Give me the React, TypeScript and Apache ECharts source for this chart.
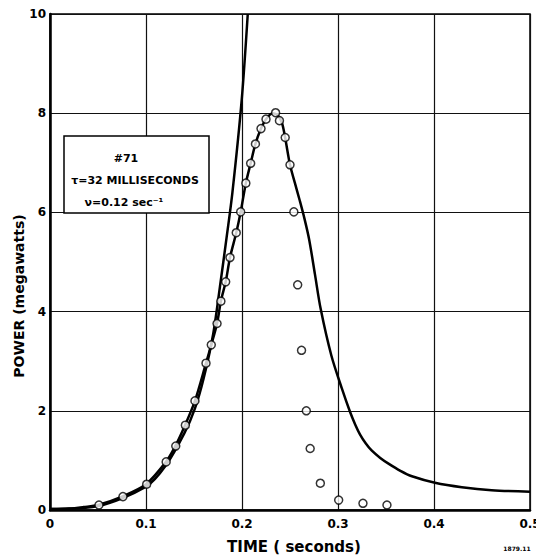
import React, { useEffect, useRef } from "react";
import * as echarts from "echarts";

// Measured points (open circles): time (s), power (MW)
const measuredT = [0.051, 0.076, 0.1007, 0.121, 0.131, 0.141, 0.151, 0.1625, 0.168, 0.174, 0.178, 0.183, 0.1875, 0.194, 0.1986, 0.204, 0.209, 0.214, 0.2198, 0.225, 0.235, 0.239, 0.245, 0.25, 0.254, 0.258, 0.262, 0.267, 0.271, 0.2816, 0.3007, 0.326, 0.351];
const measuredP = [0.1, 0.27, 0.52, 0.97, 1.29, 1.71, 2.2, 2.96, 3.33, 3.76, 4.21, 4.6, 5.09, 5.59, 6.01, 6.59, 6.99, 7.38, 7.69, 7.88, 8.01, 7.85, 7.51, 6.96, 6.01, 4.54, 3.22, 2.0, 1.24, 0.54, 0.2, 0.135, 0.1];

// Computed power curve (heavy line)
const curveT = [0, 0.02, 0.035, 0.05, 0.075, 0.1, 0.12, 0.13, 0.14, 0.151, 0.1625, 0.168, 0.174, 0.178, 0.183, 0.1875, 0.194, 0.1986, 0.204, 0.209, 0.214, 0.2198, 0.225, 0.232, 0.2375, 0.2417, 0.245, 0.25, 0.255, 0.26, 0.265, 0.27, 0.276, 0.282, 0.293, 0.304, 0.3125, 0.318, 0.323, 0.329, 0.335, 0.344, 0.353, 0.365, 0.377, 0.401, 0.429, 0.46, 0.5];
const curveP = [0.02, 0.03, 0.06, 0.1, 0.27, 0.52, 0.95, 1.27, 1.68, 2.2, 2.96, 3.33, 3.76, 4.21, 4.6, 5.09, 5.59, 6.01, 6.59, 6.99, 7.38, 7.69, 7.88, 8.0, 7.95, 7.8, 7.5, 6.96, 6.6, 6.25, 5.88, 5.45, 4.75, 4.05, 3.12, 2.45, 1.98, 1.72, 1.52, 1.34, 1.2, 1.05, 0.93, 0.79, 0.68, 0.55, 0.46, 0.4, 0.37];

// Pure exponential (τ period) curve
const expT = [0, 0.05, 0.1, 0.12, 0.14, 0.151, 0.16, 0.17, 0.177, 0.184, 0.19, 0.1997, 0.206];
const expP = [0.02, 0.08, 0.47, 0.88, 1.55, 2.05, 2.65, 3.55, 4.5, 5.5, 6.4, 8.27, 10];

const xTicks = [0, 0.1, 0.2, 0.3, 0.4, 0.5];
const yTicks = [0, 2, 4, 6, 8, 10];

const boxLines = ["#71", "τ=32 MILLISECONDS", "ν=0.12 sec⁻¹"];

const FONT = "DejaVu Sans";

export default function App() {
  const ref = useRef<HTMLDivElement>(null);
  useEffect(() => {
    if (!ref.current) return;
    const chart = echarts.init(ref.current, undefined, { renderer: "svg" });
    const pair = (a: number[], b: number[]) => a.map((v, i) => [v, b[i]]);
    chart.setOption({
      animation: false,
      backgroundColor: "#fff",
      grid: { left: 50, right: 14, top: 14, bottom: 47, show: true, borderColor: "#000", borderWidth: 1.5 },
      xAxis: {
        type: "value",
        min: xTicks[0],
        max: xTicks[xTicks.length - 1],
        interval: 0.1,
        axisLine: { show: true, onZero: false, lineStyle: { color: "#000", width: 2.5 } },
        axisTick: { show: false },
        splitLine: { show: true, lineStyle: { color: "#111", width: 1.2 } },
        axisLabel: {
          color: "#000", fontFamily: FONT, fontSize: 12, fontWeight: "bold", margin: 8,
          formatter: (v: number) => (v === 0 ? "0" : v.toFixed(1)),
        },
      },
      yAxis: {
        type: "value",
        min: yTicks[0],
        max: yTicks[yTicks.length - 1],
        interval: 2,
        axisLine: { show: true, onZero: false, lineStyle: { color: "#000", width: 2.5 } },
        axisTick: { show: false },
        splitLine: { show: true, lineStyle: { color: "#111", width: 1.2 } },
        axisLabel: { color: "#000", fontFamily: FONT, fontSize: 12, fontWeight: "bold", margin: 4 },
      },
      series: [
        {
          type: "line",
          data: pair(expT, expP),
          showSymbol: false,
          smooth: 0.3,
          lineStyle: { color: "#000", width: 2.5 },
          z: 2,
        },
        {
          type: "line",
          data: pair(curveT, curveP),
          showSymbol: false,
          smooth: 0.3,
          lineStyle: { color: "#000", width: 2.5 },
          z: 3,
        },
        {
          type: "scatter",
          data: pair(measuredT, measuredP),
          symbol: "circle",
          symbolSize: 8,
          itemStyle: { color: "#fff", borderColor: "#000", borderWidth: 1.5 },
          z: 4,
        },
      ],
      graphic: [
        {
          type: "rect",
          shape: { x: 64, y: 136, width: 145, height: 77 },
          style: { fill: "#fff", stroke: "#000", lineWidth: 1.5 },
          z: 100,
        },
        {
          type: "text", x: 126, y: 158, z: 101,
          style: { text: boxLines[0], fill: "#000", font: `bold 11px "${FONT}"`, align: "center", verticalAlign: "middle" },
        },
        {
          type: "text", x: 135, y: 180, z: 101,
          style: { text: boxLines[1], fill: "#000", font: `bold 11px "${FONT}"`, align: "center", verticalAlign: "middle" },
        },
        {
          type: "text", x: 124, y: 202, z: 101,
          style: { text: boxLines[2], fill: "#000", font: `bold 11px "${FONT}"`, align: "center", verticalAlign: "middle" },
        },
        {
          type: "text", x: 294, y: 547,
          style: { text: "TIME ( seconds)", fill: "#000", font: `bold 15px "${FONT}"`, align: "center", verticalAlign: "middle" },
        },
        {
          type: "text", x: 19, y: 296, rotation: Math.PI / 2,
          style: { text: "POWER (megawatts)", fill: "#000", font: `bold 14px "${FONT}"`, align: "center", verticalAlign: "middle" },
        },
        {
          type: "text", x: 517, y: 548,
          style: { text: "1879.11", fill: "#000", font: `bold 6px "${FONT}"`, align: "center", verticalAlign: "middle" },
        },
      ],
    });
    return () => chart.dispose();
  }, []);
  return <div ref={ref} style={{ width: 544, height: 557, marginLeft: -8, marginTop: -8 }} />;
}
